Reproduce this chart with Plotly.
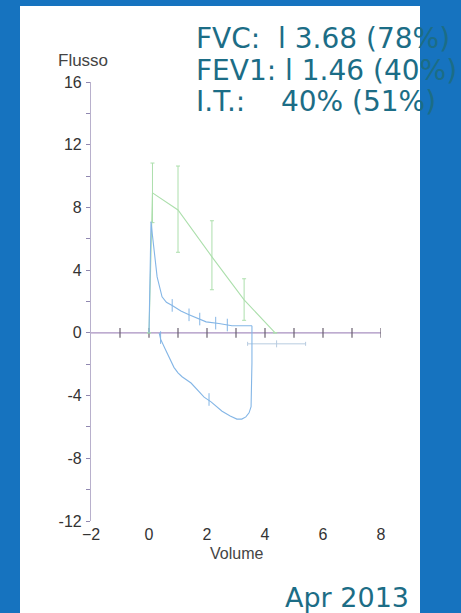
import plotly.graph_objects as go

# ---- data ----
pred_x = [0.0, 0.12, 1.0, 2.17, 3.28, 4.35]
pred_y = [0.0, 8.93, 7.84, 4.85, 2.10, 0.0]
pred_err_plus = [0, 1.9, 2.8, 2.3, 1.35, 0]
pred_err_minus = [0, 1.9, 2.7, 2.1, 1.3, 0]

exp_x = [0.0, 0.02, 0.07, 0.12, 0.17, 0.28, 0.45, 0.6, 0.8, 1.1, 1.38, 1.7, 1.97, 2.41, 2.86, 3.2, 3.55]
exp_y = [0.0, 3.0, 7.1, 6.2, 5.3, 3.57, 2.3, 1.95, 1.75, 1.4, 1.15, 0.9, 0.7, 0.6, 0.45, 0.45, 0.45]

insp_x = [0.35, 0.4, 0.55, 0.7, 0.86, 1.0, 1.14, 1.45, 1.72, 1.9, 2.14, 2.52, 2.8, 3.03, 3.2, 3.34, 3.45, 3.52, 3.55, 3.55]
insp_y = [0.0, -0.4, -1.0, -1.6, -2.2, -2.55, -2.8, -3.2, -3.75, -4.1, -4.4, -5.0, -5.3, -5.5, -5.5, -5.36, -5.1, -4.7, -1.9, 0.45]

mark_x = [0.8, 1.38, 1.75, 2.3, 2.7, 2.07, 0.4]
mark_y = [1.75, 1.15, 0.88, 0.62, 0.5, -4.25, -0.3]

fvc_pred_x = [4.4]
fvc_pred_y = [-0.7]
fvc_pred_err = [1.0]

axis_ticks_x = [-1, 0, 1, 2, 3, 4, 5, 6, 7, 8]
xtick_vals = [-2, 0, 2, 4, 6, 8]
ytick_vals = list(range(-12, 17, 2))
ytick_text = [str(v) if v % 4 == 0 else "" for v in ytick_vals]

info_lines = ["FVC:\u00a0\u00a0l 3.68 (78%)", "FEV1: l 1.46 (40%)", "I.T.:\u00a0\u00a0\u00a0\u00a040% (51%)"]
date_text = "Apr 2013"

# ---- layout geometry ----
W, H = 461, 613
L, R, T, B = 91, 80, 82, 92
PW, PH = W - L - R, H - T - B

def pxx(px):
    return (px - L) / PW

def pxy(py):
    return (H - B - py) / PH

fig = go.Figure()

# zero line with ticks
fig.add_trace(go.Scatter(x=[-2, 8], y=[0, 0], mode="lines",
                         line=dict(color="#a890c0", width=1.2), hoverinfo="skip"))
fig.add_trace(go.Scatter(x=axis_ticks_x, y=[0] * len(axis_ticks_x), mode="markers",
                         marker=dict(symbol="line-ns", size=7, line=dict(color="#6a6070", width=1.2)),
                         hoverinfo="skip"))

# predicted curve (green)
fig.add_trace(go.Scatter(x=pred_x, y=pred_y, mode="lines",
                         line=dict(color="#acdfac", width=1.1),
                         error_y=dict(type="data", array=pred_err_plus, arrayminus=pred_err_minus,
                                      color="#acdfac", thickness=1, width=2),
                         hoverinfo="skip"))

# predicted FVC with horizontal error bar
fig.add_trace(go.Scatter(x=fvc_pred_x, y=fvc_pred_y, mode="markers",
                         marker=dict(symbol="line-ns", size=5, line=dict(color="#b8cce0", width=1)),
                         error_x=dict(type="data", array=fvc_pred_err, color="#b8cce0", thickness=1, width=2),
                         hoverinfo="skip"))

# measured curves (blue)
fig.add_trace(go.Scatter(x=exp_x, y=exp_y, mode="lines",
                         line=dict(color="#84b6e6", width=1.1), hoverinfo="skip"))
fig.add_trace(go.Scatter(x=insp_x, y=insp_y, mode="lines",
                         line=dict(color="#84b6e6", width=1.1), hoverinfo="skip"))
fig.add_trace(go.Scatter(x=mark_x, y=mark_y, mode="markers",
                         marker=dict(symbol="line-ns", size=9, line=dict(color="#84b6e6", width=1)),
                         hoverinfo="skip"))

shapes = [dict(type="rect", xref="paper", yref="paper", layer="below",
               x0=pxx(20), x1=pxx(420), y0=pxy(613), y1=pxy(6),
               fillcolor="white", line=dict(width=0))]

annotations = []
for i, t in enumerate(info_lines):
    annotations.append(dict(text=t, xref="paper", yref="paper", x=pxx(194), y=pxy(38 + 32 * i),
                            xanchor="left", yanchor="middle", showarrow=False,
                            font=dict(family="DejaVu Sans", size=28, color="#1c6d86")))
annotations.append(dict(text=date_text, xref="paper", yref="paper", x=pxx(411), y=pxy(597),
                        xanchor="right", yanchor="middle", showarrow=False,
                        font=dict(family="DejaVu Sans", size=27, color="#1c6d86")))
annotations.append(dict(text="Flusso", xref="paper", yref="paper", x=pxx(83), y=pxy(60),
                        xanchor="center", yanchor="middle", showarrow=False,
                        font=dict(family="Liberation Sans", size=17, color="#444444")))
annotations.append(dict(text="Volume", xref="paper", yref="paper", x=pxx(236), y=pxy(553),
                        xanchor="center", yanchor="middle", showarrow=False,
                        font=dict(family="Liberation Sans", size=16, color="#444444")))

fig.update_layout(
    width=W, height=H,
    margin=dict(l=L, r=R, t=T, b=B),
    paper_bgcolor="#1673bf",
    plot_bgcolor="rgba(0,0,0,0)",
    showlegend=False,
    shapes=shapes,
    annotations=annotations,
    xaxis=dict(range=[-2, 8], tickvals=xtick_vals, showgrid=False, zeroline=False,
               showline=False, ticks="", ticklabelstandoff=2,
               tickfont=dict(family="Liberation Sans", size=16, color="#333333")),
    yaxis=dict(range=[-12, 16], tickvals=ytick_vals, ticktext=ytick_text, showgrid=False,
               zeroline=False, showline=True, linecolor="#b8b0cc", linewidth=1.2,
               ticks="outside", ticklen=4, tickcolor="#9088b0", ticklabelstandoff=1,
               tickfont=dict(family="Liberation Sans", size=16, color="#333333")),
)

fig.write_html("out.html")
